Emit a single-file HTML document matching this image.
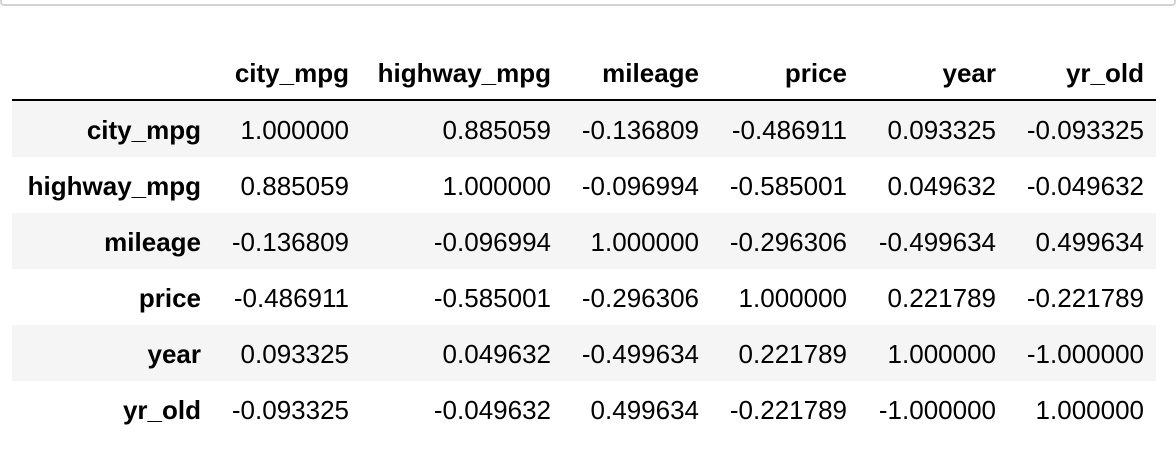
<!DOCTYPE html>
<html><head><meta charset="utf-8"><style>
body{margin:0;width:1176px;height:470px;background:#fff;position:relative;overflow:hidden;font-family:"Liberation Sans",Arial,sans-serif;color:#000}
.frame{position:absolute;left:0;top:0;width:1172px;height:4px;border-bottom:2px solid #d4d4d4;border-right:2px solid #d4d4d4;border-left:2px solid #d4d4d4;border-bottom-right-radius:4px;border-bottom-left-radius:4px}
.cell{position:absolute;font-size:26px;line-height:56px;height:56px;text-align:right;white-space:nowrap}
.b{font-weight:bold}
.row{position:absolute;left:12px;width:1144px;height:56px}
.rule{position:absolute;left:12px;width:1144px;top:99px;height:2px;background:#000}
</style></head><body>
<div class="frame"></div>
<div id="t"></div>
<script>
const cols=["city_mpg","highway_mpg","mileage","price","year","yr_old"];
const rowsIdx=["city_mpg","highway_mpg","mileage","price","year","yr_old"];
const r0=["1.000000","0.885059","-0.136809","-0.486911","0.093325","-0.093325"];
const r1=["0.885059","1.000000","-0.096994","-0.585001","0.049632","-0.049632"];
const r2=["-0.136809","-0.096994","1.000000","-0.296306","-0.499634","0.499634"];
const r3=["-0.486911","-0.585001","-0.296306","1.000000","0.221789","-0.221789"];
const r4=["0.093325","0.049632","-0.499634","0.221789","1.000000","-1.000000"];
const r5=["-0.093325","-0.049632","0.499634","-0.221789","-1.000000","1.000000"];
const vals=[r0,r1,r2,r3,r4,r5];
const edges=[12,213,361,563,711,859,1008,1156];
const t=document.getElementById('t');
function cell(txt,ci,top,bold,name){
  const d=document.createElement('div');
  d.className='cell'+(bold?' b':'');
  d.style.left=edges[ci]+'px';
  d.style.width=(edges[ci+1]-edges[ci]-12)+'px';
  d.style.top=top+'px';
  d.textContent=txt;
  
  
  t.appendChild(d);
}
cols.forEach((c,i)=>cell(c,i+1,45,true,'column-header-'+c));
const rule=document.createElement('div');rule.className='rule';


t.appendChild(rule);
rowsIdx.forEach((r,ri)=>{
  const top=101+ri*56;
  const bg=document.createElement('div');bg.className='row';bg.style.top=top+'px';
  bg.style.background=ri%2===0?'#f5f5f5':'#fff';
  
  
  t.appendChild(bg);
  cell(r,0,top+1,true,'row-label-'+r);
  vals[ri].forEach((v,ci)=>cell(v,ci+1,top+1,false,'value-'+r+'-'+cols[ci]));
});
</script>
</body></html>
